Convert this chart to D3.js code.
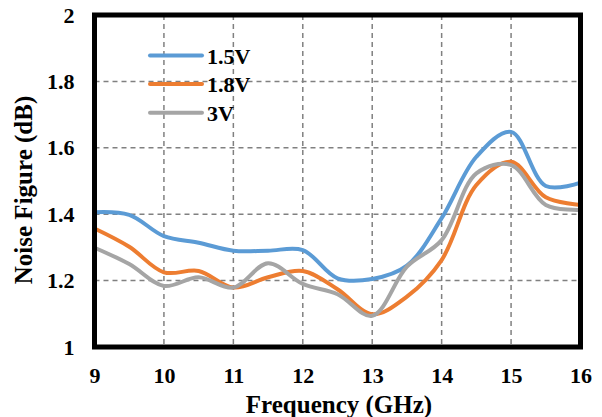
<!DOCTYPE html>
<html><head><meta charset="utf-8">
<script src="https://cdn.jsdelivr.net/npm/d3@7"></script>
<style>body{margin:0;background:#fff}svg{display:block}</style>
</head><body>
<script>
const freqs = [9, 9.5, 10, 10.5, 11, 11.5, 12, 12.5, 13, 13.5, 14, 14.5, 15, 15.5, 16];
const nf15 = [1.406, 1.398, 1.334, 1.314, 1.29, 1.29, 1.292, 1.207, 1.205, 1.245, 1.388, 1.573, 1.648, 1.485, 1.495];
const nf18 = [1.357, 1.302, 1.225, 1.229, 1.179, 1.21, 1.229, 1.174, 1.099, 1.152, 1.262, 1.488, 1.558, 1.451, 1.428];
const nf3 = [1.299, 1.25, 1.184, 1.21, 1.179, 1.252, 1.19, 1.159, 1.094, 1.242, 1.322, 1.523, 1.548, 1.428, 1.413];
const seriesNames = ["1.5V", "1.8V", "3V"];
const colors = ["#5B9BD5", "#ED7D31", "#A5A5A5"];
const xTicks = [9, 10, 11, 12, 13, 14, 15, 16];
const yTicks = [1, 1.2, 1.4, 1.6, 1.8, 2];

const W = 602, H = 417;
const svg = d3.select("body").append("svg").attr("width", W).attr("height", H);
const x = d3.scaleLinear().domain([9, 16]).range([94.5, 580.5]);
const y = d3.scaleLinear().domain([1, 2]).range([347, 15]);
const font = "'Liberation Serif','Times New Roman',serif";

// grid
const grid = svg.append("g").attr("stroke", "#808080").attr("stroke-width", 1.5).attr("stroke-dasharray", "5,4");
grid.selectAll("line.v").data(xTicks.slice(1, -1)).join("line")
  .attr("x1", d => x(d)).attr("x2", d => x(d)).attr("y1", y(2)).attr("y2", y(1));
grid.selectAll("line.h").data(yTicks.slice(1, -1)).join("line")
  .attr("x1", x(9)).attr("x2", x(16)).attr("y1", d => y(d)).attr("y2", d => y(d));

// lines
const allSeries = [nf15, nf18, nf3];
const line = d3.line().x((d, i) => x(freqs[i])).y(d => y(d)).curve(d3.curveCatmullRom.alpha(0.5));
svg.append("g").selectAll("path").data(allSeries).join("path")
  .attr("d", d => line(d)).attr("fill", "none")
  .attr("stroke", (d, i) => colors[i]).attr("stroke-width", 4).attr("stroke-linecap", "round");

// frame
svg.append("rect").attr("x", x(9)).attr("y", y(2)).attr("width", x(16) - x(9)).attr("height", y(1) - y(2))
  .attr("fill", "none").attr("stroke", "#000").attr("stroke-width", 5);

// axes
const xAxis = svg.append("g").attr("transform", `translate(0,${y(1)})`)
  .call(d3.axisBottom(x).tickValues(xTicks).tickSize(0).tickPadding(20).tickFormat(d3.format("d")));
const yAxis = svg.append("g").attr("transform", `translate(${x(9)},0)`)
  .call(d3.axisLeft(y).tickValues(yTicks).tickSize(0).tickPadding(20).tickFormat(d => d3.format("")(d)));
[xAxis, yAxis].forEach(a => {
  a.select(".domain").remove();
  a.selectAll("text").attr("font-family", font).attr("font-weight", "bold").attr("font-size", 22).attr("fill", "#000");
});

// titles
svg.append("text").attr("x", 339).attr("y", 413).attr("text-anchor", "middle")
  .attr("font-family", font).attr("font-weight", "bold").attr("font-size", 25).text("Frequency (GHz)");
svg.append("text").attr("transform", "translate(32,190) rotate(-90)").attr("text-anchor", "middle")
  .attr("font-family", font).attr("font-weight", "bold").attr("font-size", 25).text("Noise Figure (dB)");

// legend
const lg = svg.append("g");
seriesNames.forEach((n, i) => {
  const ly = 55.5 + i * 28.6;
  lg.append("line").attr("x1", 150).attr("x2", 202).attr("y1", ly).attr("y2", ly)
    .attr("stroke", colors[i]).attr("stroke-width", 4).attr("stroke-linecap", "round");
  lg.append("text").attr("x", 207).attr("y", ly + 8).attr("font-family", font).attr("font-weight", "bold")
    .attr("font-size", 22).text(n);
});
</script>
</body></html>
